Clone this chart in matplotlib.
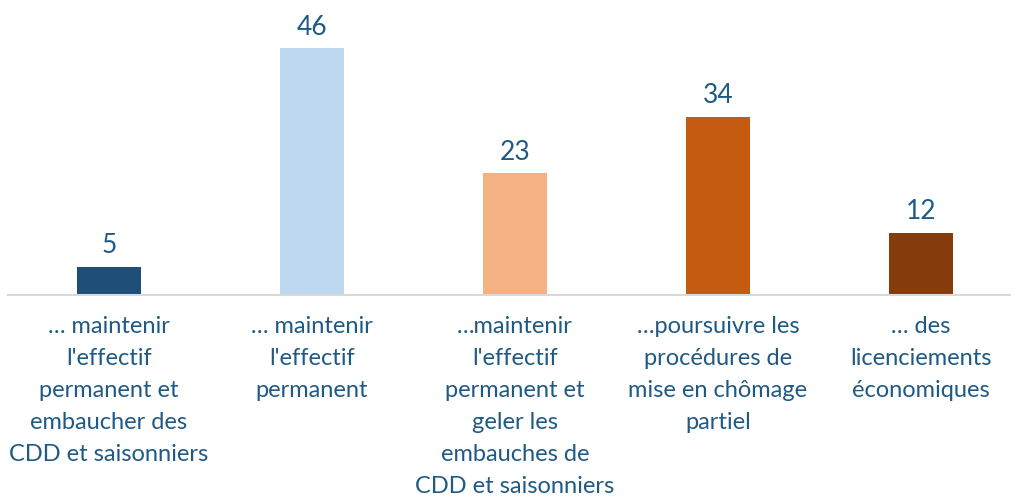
import matplotlib
matplotlib.use("Agg")
import matplotlib.pyplot as plt

categories = [
    "… maintenir\nl'effectif\npermanent et\nembaucher des\nCDD et saisonniers",
    "… maintenir\nl'effectif\npermanent",
    "…maintenir\nl'effectif\npermanent et\ngeler les\nembauches de\nCDD et saisonniers",
    "…poursuivre les\nprocédures de\nmise en chômage\npartiel",
    "… des\nlicenciements\néconomiques",
]
# bar heights; labels shown rounded
values = [5.3, 46.4, 22.9, 33.5, 11.7]
colors = ["#1F4E79", "#BDD7EE", "#F4B183", "#C55A11", "#843C0C"]
text_color = "#1F5A85"

plt.rcParams["font.family"] = ["Lato", "DejaVu Sans"]

fig = plt.figure(figsize=(10.11, 5.0), dpi=100)
ax = fig.add_axes([8 / 1011, 1 - 295 / 500, 1003 / 1011, 295 / 500])

x = list(range(len(values)))
ax.bar(x, values, width=0.315, color=colors)

for xi, v in zip(x, values):
    ax.annotate(str(int(v + 0.5)), (xi, v), xytext=(0, 6), textcoords="offset points",
                ha="center", va="bottom", fontsize=19, color=text_color)

ax.set_xlim(-0.4975, 4.443)
ax.set_ylim(0, 295 / 5.32)
ax.set_xticks(x)
ax.set_xticklabels(categories, fontsize=17, color=text_color, linespacing=1.65,
                   va="top")
ax.tick_params(axis="x", length=0, pad=15)
ax.set_yticks([])
for side in ["top", "right", "left"]:
    ax.spines[side].set_visible(False)
ax.spines["bottom"].set_color("#D9D9D9")
ax.spines["bottom"].set_linewidth(1.5)

fig.savefig("out.png", dpi=100)
